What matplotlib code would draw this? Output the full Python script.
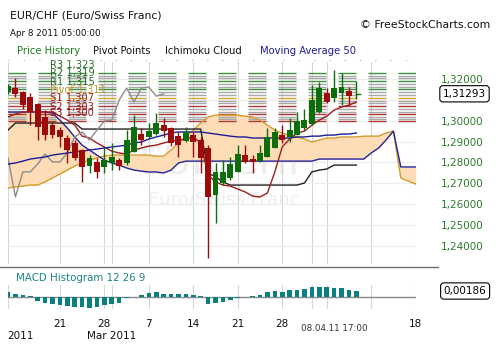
import matplotlib
matplotlib.use("Agg")
import matplotlib.pyplot as plt
import matplotlib.transforms as mtransforms
from matplotlib.lines import Line2D

plt.rcParams['font.family'] = ['DejaVu Sans']
plt.rcParams['lines.scale_dashes'] = False

# ---- data (daily bars, Sun 13 Feb 2011 .. Fri 8 Apr 2011, index = bar number) ----
days = list(range(48))
cloud_days = list(range(56))

opens = [1.3138, 1.3157, 1.3138, 1.3114, 1.3080, 1.3018, 1.2979, 1.2955, 1.2917, 1.2893,
         1.2859, 1.2782, 1.2802, 1.2778, 1.2797, 1.2811, 1.2797, 1.2850, 1.2936, 1.2922,
         1.2936, 1.2979, 1.2965, 1.2926, 1.2902, 1.2931, 1.2907, 1.2869, 1.2643, 1.2701,
         1.2725, 1.2754, 1.2835, 1.2816, 1.2806, 1.2826, 1.2869, 1.2931, 1.2922, 1.2931,
         1.2965, 1.2984, 1.3042, 1.3133, 1.3109, 1.3133, 1.3142, 1.3128]
highs = [1.3176, 1.3205, 1.3142, 1.3133, 1.3085, 1.3051, 1.2994, 1.2970, 1.2931, 1.2907,
         1.2864, 1.2835, 1.2821, 1.2869, 1.2893, 1.2821, 1.2955, 1.3027, 1.2965, 1.2989,
         1.3037, 1.3013, 1.2970, 1.2946, 1.2970, 1.2946, 1.2922, 1.2883, 1.2797, 1.2811,
         1.2826, 1.2883, 1.2883, 1.2835, 1.2883, 1.2965, 1.2965, 1.2979, 1.3013, 1.3042,
         1.3056, 1.3171, 1.3186, 1.3157, 1.3243, 1.3229, 1.3162, 1.3190]
lows = [1.3128, 1.3114, 1.3056, 1.2979, 1.2907, 1.2907, 1.2917, 1.2874, 1.2797, 1.2811,
        1.2706, 1.2749, 1.2725, 1.2749, 1.2763, 1.2763, 1.2787, 1.2850, 1.2883, 1.2917,
        1.2931, 1.2922, 1.2878, 1.2826, 1.2898, 1.2826, 1.2749, 1.2341, 1.2509, 1.2691,
        1.2715, 1.2754, 1.2797, 1.2749, 1.2802, 1.2826, 1.2869, 1.2893, 1.2898, 1.2931,
        1.2955, 1.2979, 1.3037, 1.3085, 1.3090, 1.3075, 1.3075, 1.3104]
closes = [1.3166, 1.3128, 1.3075, 1.3042, 1.2970, 1.2931, 1.2931, 1.2922, 1.2859, 1.2821,
          1.2778, 1.2821, 1.2754, 1.2811, 1.2826, 1.2782, 1.2907, 1.2970, 1.2907, 1.2950,
          1.2989, 1.2950, 1.2893, 1.2883, 1.2946, 1.2898, 1.2821, 1.2634, 1.2754, 1.2754,
          1.2792, 1.2840, 1.2802, 1.2802, 1.2845, 1.2922, 1.2946, 1.2907, 1.2955, 1.2998,
          1.3003, 1.3099, 1.3157, 1.3090, 1.3157, 1.3162, 1.3118, 1.31293]

tenkan = [1.3018, 1.3032, 1.3042, 1.3042, 1.3042, 1.3042, 1.3042, 1.3022, 1.3003, 1.2979,
          1.2926, 1.2917, 1.2893, 1.2874, 1.2854, 1.2845, 1.2840, 1.2859, 1.2869, 1.2878,
          1.2883, 1.2893, 1.2902, 1.2907, 1.2912, 1.2922, 1.2893, 1.2739, 1.2706, 1.2691,
          1.2686, 1.2672, 1.2658, 1.2638, 1.2634, 1.2653, 1.2754, 1.2874, 1.2912, 1.2941,
          1.2950, 1.2979, 1.3003, 1.3022, 1.3051, 1.3066, 1.3075, 1.3090]
kijun = [1.2955, 1.2989, 1.2989, 1.2989, 1.2989, 1.2989, 1.2989, 1.2989, 1.2989, 1.2989,
         1.2960, 1.2960, 1.2960, 1.2960, 1.2960, 1.2960, 1.2960, 1.2960, 1.2960, 1.2960,
         1.2960, 1.2960, 1.2960, 1.2960, 1.2960, 1.2960, 1.2960, 1.2749, 1.2730, 1.2706,
         1.2691, 1.2691, 1.2691, 1.2691, 1.2691, 1.2691, 1.2691, 1.2691, 1.2691, 1.2691,
         1.2701, 1.2754, 1.2763, 1.2768, 1.2787, 1.2787, 1.2787, 1.2787]
span_a = [1.2677, 1.2682, 1.2686, 1.2691, 1.2691, 1.2706, 1.2725, 1.2744, 1.2763, 1.2782,
          1.2797, 1.2811, 1.2821, 1.2830, 1.2835, 1.2835, 1.2835, 1.2835, 1.2835, 1.2835,
          1.2830, 1.2830, 1.2859, 1.2893, 1.2926, 1.2955, 1.2989, 1.3018, 1.3027, 1.3027,
          1.3027, 1.3027, 1.3022, 1.3018, 1.3003, 1.2979, 1.2955, 1.2941, 1.2931, 1.2922,
          1.2912, 1.2898, 1.2907, 1.2917, 1.2917, 1.2922, 1.2922, 1.2922, 1.2926, 1.2926,
          1.2926, 1.2941, 1.2950, 1.2725, 1.2710, 1.2696]
span_b = [1.3042, 1.3042, 1.3042, 1.3042, 1.3042, 1.3042, 1.3037, 1.3003, 1.2965, 1.2922,
          1.2883, 1.2859, 1.2835, 1.2811, 1.2797, 1.2787, 1.2773, 1.2763, 1.2758, 1.2754,
          1.2754, 1.2749, 1.2763, 1.2797, 1.2806, 1.2806, 1.2806, 1.2806, 1.2806, 1.2806,
          1.2806, 1.2806, 1.2806, 1.2806, 1.2806, 1.2806, 1.2806, 1.2806, 1.2806, 1.2806,
          1.2806, 1.2806, 1.2816, 1.2816, 1.2816, 1.2816, 1.2816, 1.2816, 1.2816, 1.2845,
          1.2869, 1.2907, 1.2950, 1.2778, 1.2778, 1.2778]
ma50 = [1.2792, 1.2797, 1.2806, 1.2816, 1.2821, 1.2826, 1.2835, 1.2840, 1.2845, 1.2850,
        1.2854, 1.2859, 1.2864, 1.2869, 1.2874, 1.2878, 1.2883, 1.2893, 1.2898, 1.2912,
        1.2922, 1.2931, 1.2941, 1.2946, 1.2946, 1.2946, 1.2946, 1.2941, 1.2936, 1.2931,
        1.2926, 1.2922, 1.2922, 1.2917, 1.2917, 1.2917, 1.2917, 1.2917, 1.2917, 1.2922,
        1.2922, 1.2926, 1.2926, 1.2931, 1.2931, 1.2936, 1.2936, 1.2941]
macd_hist = [0.00155, 0.00093, 0.00053, 0.00022, -0.00124, -0.00177, -0.00208, -0.00239, -0.00279, -0.00310,
             -0.00319, -0.00341, -0.00310, -0.00239, -0.00208, -0.00177, -0.00022, 0.00012, 0.00062, 0.00124,
             0.00146, 0.00102, 0.00084, 0.00084, 0.00084, 0.00062, 0.00022, -0.00208, -0.00186, -0.00146,
             -0.00102, -0.00040, -0.00010, 0.00031, 0.00062, 0.00146, 0.00177, 0.00146, 0.00208, 0.00208,
             0.00248, 0.00310, 0.00310, 0.00310, 0.00288, 0.00270, 0.00208, 0.00186]

pivot_names = ['R3', 'R2', 'R1', 'Pivot', 'S1', 'S2', 'S3']
pivot_levels = [1.323, 1.319, 1.315, 1.311, 1.307, 1.303, 1.300]
pivot_colors = ['#3f8f3f', '#3f8f3f', '#3f8f3f', '#d1a52a', '#b03a3a', '#b03a3a', '#b03a3a']
pivot_text_colors = ['#2c6e2c', '#2c6e2c', '#2c6e2c', '#c49a1e', '#9a1c1c', '#9a1c1c', '#9a1c1c']

price_ticks = [1.24, 1.25, 1.26, 1.27, 1.28, 1.29, 1.30, 1.31, 1.32]
grid_days = [0, 7, 13, 14, 19, 25, 31, 37, 41, 43, 49, 55]
label_days = [7, 13, 19, 25, 31, 37, 55]
day_labels = ['21', '28', '7', '14', '21', '28', '18']
month_days = [0, 14]
month_labels = ['2011', 'Mar 2011']

GREEN = '#0b6e0b'
RED = '#9e0a0a'

W, H = 500, 350
fig = plt.figure(figsize=(5, 3.5), dpi=100)


def px_rect(x0, y0, x1, y1):
    return [x0 / W, 1 - y1 / H, (x1 - x0) / W, (y1 - y0) / H]


def fmt(v):
    return f"{v:.5f}".replace('.', ',')


ax = fig.add_axes(px_rect(8, 62, 416, 264))
ax_m = fig.add_axes(px_rect(8, 285, 416, 309))

# ---- price panel ----
ax.set_xlim(0, 55.05)
ax.set_ylim(1.2312, 1.3282)
for s in ax.spines.values():
    s.set_visible(False)
ax.set_axisbelow(True)
ax.set_yticks(price_ticks)
# the last-price box hides the tick label it sits on
ax.set_yticklabels(['' if abs(v - closes[-1]) < 0.004 else fmt(v) for v in price_ticks])
ax.yaxis.tick_right()
ax.tick_params(axis='y', length=0, pad=18, labelsize=7.5, labelcolor='#2b7a2b')
ax.set_xticks([])
ax.yaxis.grid(True, color='#ececec', lw=0.8)
for d in grid_days:
    ax.axvline(d, color='#d6d6d6', lw=0.8, zorder=0.5)

ax.text(0.53, 0.50, 'EUR/CHF', transform=ax.transAxes, fontsize=28, color='#eeeeee',
        ha='center', va='center', zorder=0.2)
ax.text(0.53, 0.32, 'Euro/Swiss Franc', transform=ax.transAxes, fontsize=13, color='#eeeeee',
        ha='center', va='center', zorder=0.2)

# pivot points: main levels plus the gray thirds between them
for i, lev in enumerate(pivot_levels):
    ax.axhline(lev, color=pivot_colors[i], lw=1.0, ls=(0, (13, 8.6)), zorder=1.5)
    if i + 1 < len(pivot_levels):
        nxt = pivot_levels[i + 1]
        for f in (1 / 3, 2 / 3):
            ax.axhline(lev + (nxt - lev) * f, color='#a8a8a8', lw=1.0, ls=(0, (13, 8.6)), zorder=1.4)
    ax.annotate(f"{pivot_names[i]} {lev:.3f}".replace('.', ','), xy=(5.6, lev), xytext=(0, 2.0),
                textcoords='offset points', fontsize=7.2, color=pivot_text_colors[i],
                ha='left', va='bottom', zorder=8)

# ichimoku cloud
ax.fill_between(cloud_days, span_a, span_b, color='#fddcb6', lw=0, zorder=1)
ax.plot(cloud_days, span_a, color='#d49a2a', lw=1.0, zorder=2)
ax.plot(cloud_days, span_b, color='#2424a0', lw=1.0, zorder=2)
ax.plot(days, kijun, color='#222222', lw=1.0, zorder=2)
ax.plot(days, tenkan, color='#a01c1c', lw=1.0, zorder=2)
ax.plot(days[:len(days) - 26], closes[26:], color='#8c8c8c', lw=1.0, zorder=2)
ax.plot(days, ma50, color='#1c1c96', lw=1.0, zorder=2)

# candles
cols = [GREEN if c >= o else RED for o, c in zip(opens, closes)]
ax.vlines(days, lows, highs, colors=cols, lw=1.0, zorder=4)
ax.bar(days, [max(abs(c - o), 0.00005) for o, c in zip(opens, closes)],
       bottom=[min(o, c) for o, c in zip(opens, closes)], width=0.8, color=cols, lw=0, zorder=4)
ax.plot([days[-1], days[-1] + 0.55], [closes[-1], closes[-1]], color=GREEN, lw=1.0, zorder=4)

tr = mtransforms.blended_transform_factory(ax.transAxes, ax.transData)
fig.text(1.066, closes[-1], fmt(closes[-1]), transform=tr, fontsize=7.5,
         ha='left', va='center', zorder=10,
         bbox=dict(boxstyle='round,pad=0.3', fc='white', ec='black', lw=0.8))

# ---- MACD panel ----
ax_m.set_xlim(0, 55.05)
ax_m.set_ylim(-0.00372, 0.00372)
for s in ax_m.spines.values():
    s.set_visible(False)
ax_m.set_yticks([])
for d in grid_days:
    ax_m.axvline(d, color='#d6d6d6', lw=0.8, zorder=0.5)
ax_m.axhline(0, color='#8a8a8a', lw=1.0, zorder=1)
ax_m.bar(days, macd_hist, width=0.62, color='#0b8080', lw=0, zorder=2)
ax_m.set_xticks(label_days)
ax_m.set_xticklabels(day_labels)
ax_m.tick_params(axis='x', length=0, pad=7, labelsize=7.5, labelcolor='#111111')

trm = mtransforms.blended_transform_factory(ax_m.transData, ax_m.transAxes)
ax_m.text(-0.1, -1.12, month_labels[0], transform=trm, fontsize=7.5, ha='left', va='center', color='#111111')
ax_m.text(month_days[1], -1.12, month_labels[1], transform=trm, fontsize=7.5, ha='center', va='center',
          color='#111111')
ax_m.text(44, -0.82, '08.04.11 17:00', transform=trm, fontsize=6.3, ha='center', va='center', color='#333333')

trm2 = mtransforms.blended_transform_factory(ax_m.transAxes, ax_m.transData)
fig.text(1.068, macd_hist[-1], fmt(macd_hist[-1]), transform=trm2, fontsize=7.5,
         ha='left', va='center', zorder=10,
         bbox=dict(boxstyle='round,pad=0.3', fc='white', ec='black', lw=0.8))

# ---- header and decorations ----
fig.text(10 / W, 1 - 16 / H, 'EUR/CHF (Euro/Swiss Franc)', fontsize=7.8, va='center', color='#111111')
fig.text(10 / W, 1 - 33 / H, 'Apr 8 2011 05:00:00', fontsize=6.3, va='center', color='#111111')
fig.text(490 / W, 1 - 25 / H, '\u00a9 FreeStockCharts.com', fontsize=7.8, va='center', ha='right',
         color='#111111')
fig.text(17 / W, 1 - 51 / H, 'Price History', fontsize=7.2, va='center', color='#1f7a1f')
fig.text(93 / W, 1 - 51 / H, 'Pivot Points', fontsize=7.2, va='center', color='#111111')
fig.text(165 / W, 1 - 51 / H, 'Ichimoku Cloud', fontsize=7.2, va='center', color='#111111')
fig.text(260 / W, 1 - 51 / H, 'Moving Average 50', fontsize=7.2, va='center', color='#1c1c96')
fig.text(16 / W, 1 - 278 / H, 'MACD Histogram 12 26 9', fontsize=7.4, va='center', color='#1a8585')

fig.add_artist(Line2D([8 / W, 416 / W], [1 - 60 / H] * 2, color='#bbbbbb', lw=0.8, ls=(0, (1, 10))))
fig.add_artist(Line2D([0, 438 / W], [1 - 267 / H] * 2, color='#6e6e6e', lw=1.0))

fig.savefig('out.png', dpi=100)
